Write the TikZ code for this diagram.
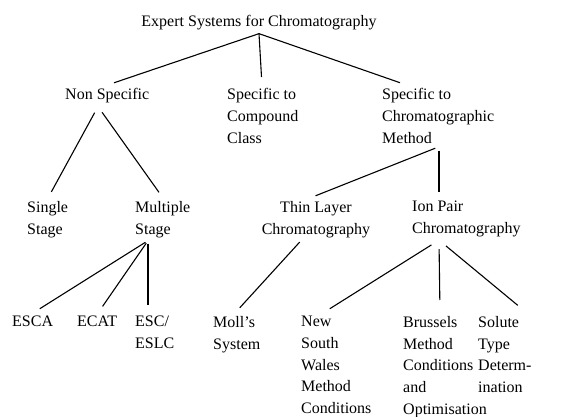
\documentclass[tikz,border=0pt]{standalone}
\usepackage{fontspec}
\setmainfont{Liberation Serif}

\begin{document}
\begin{tikzpicture}[
    x=1pt, y=-1pt,
    box/.style={inner xsep=0pt, inner ysep=3pt, anchor=north west, align=left,
        font=\fontsize{16}{21.7}\selectfont},
    edge/.style={line width=1.1pt, shorten >=7pt}
]
    \useasboundingbox (0,0) rectangle (563,417);
    \node[box, anchor=base] (top) at (259,27) {Expert Systems for Chromatography};
    \node[box] (nonspec) at (65,85.5) {Non Specific};
    \node[box] (compound) at (227,85.5) {Specific to\\Compound\\Class};
    \node[box] (chrom) at (382,85.5) {Specific to\\Chromatographic\\Method};
    \node[box] (single) at (27,198) {Single\\Stage};
    \node[box] (multi) at (135,198) {Multiple\\Stage};
    \node[box, anchor=north, align=center] (tlc) at (316,198) {Thin Layer\\Chromatography};
    \node[box] (ionpair) at (412,198) {Ion Pair\\Chromatography};
    \node[box] (esca) at (12,313) {ESCA};
    \node[box] (ecat) at (77,313) {ECAT};
    \node[box] (esc) at (135,313) {ESC/\\ESLC};
    \node[box] (moll) at (213,313) {Moll's\\System};
    \node[box] (nsw) at (301,313) {New\\South\\Wales\\Method\\Conditions};
    \node[box] (brussels) at (403,313) {Brussels\\Method\\Conditions\\and\\Optimisation};
    \node[box] (solute) at (478,313) {Solute\\Type\\Determ-\\ination};
    \draw[edge, shorten >=8.5pt] (top.south) -- ([xshift=41pt]nonspec.north west);
    \draw[edge, shorten >=8.5pt] (top.south) -- ([xshift=35pt]compound.north west);
    \draw[edge, shorten >=8.5pt] (top.south) -- ([xshift=26pt]chrom.north west);
    \draw[edge, shorten <=7pt] ([xshift=33pt]nonspec.south west) -- ([xshift=21pt]single.north west);
    \draw[edge, shorten <=7pt] ([xshift=33pt]nonspec.south west) -- ([xshift=28pt]multi.north west);
    \draw[edge, shorten <=3pt, shorten >=8pt] ([xshift=13pt]multi.south west) -- ([xshift=21pt]esca.north west);
    \draw[edge, shorten <=3pt, shorten >=8pt] ([xshift=13pt]multi.south west) -- ([xshift=21pt]ecat.north west);
    \draw[edge, shorten <=3pt, shorten >=8pt] ([xshift=13pt]multi.south west) -- ([xshift=13pt]esc.north west);
    \draw[edge, shorten <=4pt, shorten >=6pt] ([xshift=57pt]chrom.south west) -- ([xshift=-6pt]tlc.north);
    \draw[edge, shorten <=4pt, shorten >=6pt] ([xshift=57pt]chrom.south west) -- ([xshift=27pt]ionpair.north west);
    \draw[edge, shorten <=2pt] ([xshift=-15pt]tlc.south) -- ([xshift=22pt]moll.north west);
    \draw[edge, shorten <=9pt, shorten >=8pt] ([xshift=27pt]ionpair.south west) -- ([xshift=22pt]nsw.north west);
    \draw[edge, shorten <=9pt, shorten >=13pt] ([xshift=27pt]ionpair.south west) -- ([xshift=37pt]brussels.north west);
    \draw[edge, shorten <=9pt, shorten >=12pt] ([xshift=27pt]ionpair.south west) -- ([xshift=49pt]solute.north west);
\end{tikzpicture}
\end{document}
